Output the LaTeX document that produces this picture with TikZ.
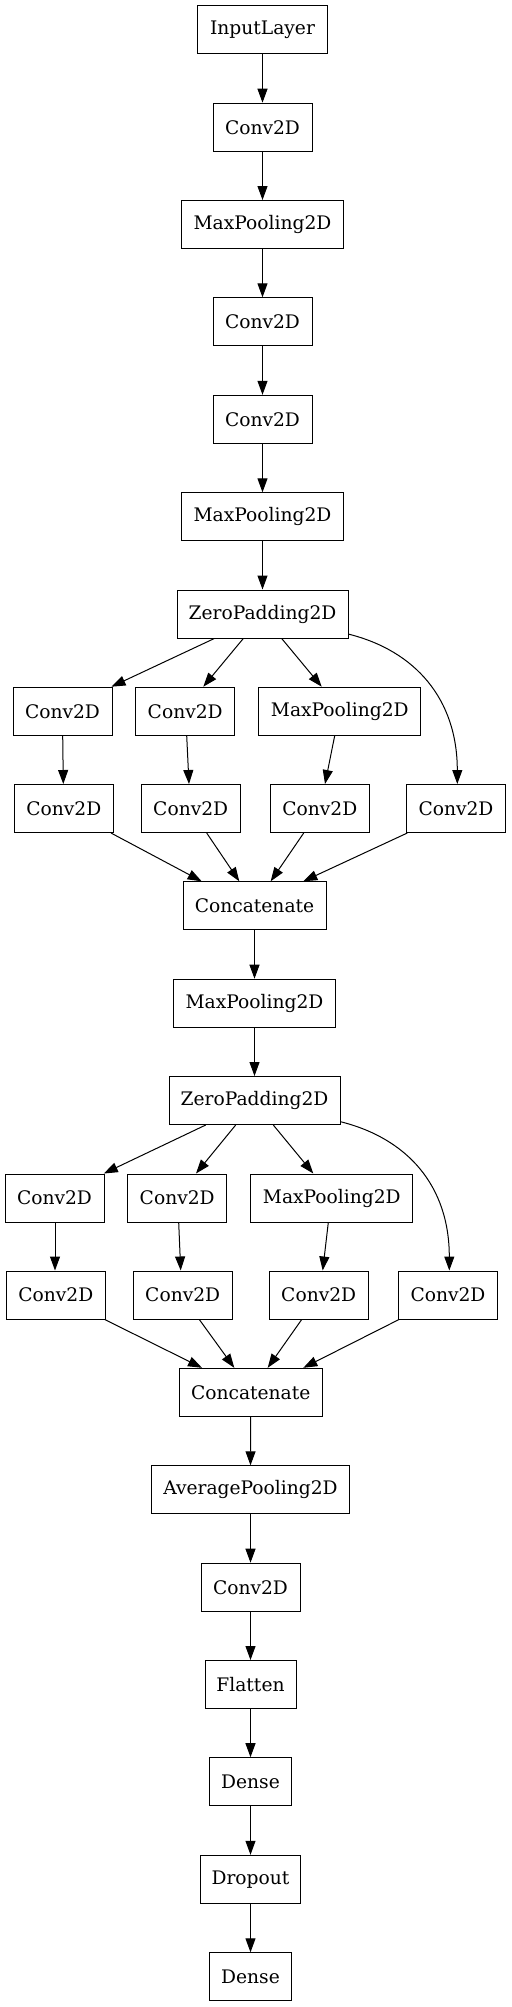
\documentclass[tikz,border=0pt]{standalone}
\usepackage{fontspec}
\setmainfont{DejaVu Serif}
\usetikzlibrary{arrows.meta,calc}
\tikzset{
  layer/.style={draw=black, line width=0.75pt, minimum height=36pt, inner sep=0pt,
    font=\fontsize{14}{16}\selectfont},
  arr/.style={draw=black, line width=0.75pt, -{Triangle[length=10.5pt,width=7.5pt]}},
}
\newcommand\lnk[4]{\draw[arr] ($(#1.south)+(#2,0)$) -- ($(#3.north)+(#4,0)$);}
\begin{document}
\begin{tikzpicture}[x=0.75pt,y=-0.75pt]
\useasboundingbox (0,0) rectangle (511,2007);
% trunk
\node[layer,minimum width=97.5pt] (in) at (262.5,29.7) {InputLayer};
\node[layer,minimum width=74.25pt] (c1) at (262.5,127.2) {Conv2D};
\node[layer,minimum width=121.5pt] (m1) at (262.5,224.5) {MaxPooling2D};
\node[layer,minimum width=74.25pt] (c2) at (262.5,321.8) {Conv2D};
\node[layer,minimum width=74.25pt] (c3) at (262.5,419.3) {Conv2D};
\node[layer,minimum width=121.5pt] (m2) at (262.5,516.8) {MaxPooling2D};
\node[layer,minimum width=128.25pt] (zp1) at (262.5,614) {ZeroPadding2D};
% block 1
\node[layer,minimum width=74.25pt] (a1) at (62.5,711.2) {Conv2D};
\node[layer,minimum width=74.25pt] (b1) at (185.2,711.2) {Conv2D};
\node[layer,minimum width=121.5pt] (p1) at (339.8,711.2) {MaxPooling2D};
\node[layer,minimum width=74.25pt] (a2) at (63.8,808.5) {Conv2D};
\node[layer,minimum width=74.25pt] (b2) at (190.7,808.5) {Conv2D};
\node[layer,minimum width=74.25pt] (p2) at (319.8,808.5) {Conv2D};
\node[layer,minimum width=74.25pt] (d2) at (456,808.5) {Conv2D};
\node[layer,minimum width=107.25pt] (cat1) at (254.5,905.8) {Concatenate};
\node[layer,minimum width=121.5pt] (m3) at (254.5,1003.2) {MaxPooling2D};
\node[layer,minimum width=128.25pt] (zp2) at (254.5,1100.5) {ZeroPadding2D};
% block 2
\node[layer,minimum width=74.25pt] (e1) at (54.5,1198) {Conv2D};
\node[layer,minimum width=74.25pt] (f1) at (177.2,1198) {Conv2D};
\node[layer,minimum width=121.5pt] (q1) at (331.8,1198) {MaxPooling2D};
\node[layer,minimum width=74.25pt] (e2) at (55.8,1295) {Conv2D};
\node[layer,minimum width=74.25pt] (f2) at (182.7,1295) {Conv2D};
\node[layer,minimum width=74.25pt] (q2) at (318.7,1295) {Conv2D};
\node[layer,minimum width=74.25pt] (g2) at (448,1295) {Conv2D};
\node[layer,minimum width=107.25pt] (cat2) at (250.7,1392.3) {Concatenate};
% tail
\node[layer,minimum width=148.2pt] (avg) at (250.5,1489.8) {AveragePooling2D};
\node[layer,minimum width=74.25pt] (c4) at (250.5,1587.2) {Conv2D};
\node[layer,minimum width=68.25pt] (fl) at (250.5,1684.5) {Flatten};
\node[layer,minimum width=61.3pt] (de1) at (250.5,1781.7) {Dense};
\node[layer,minimum width=75.3pt] (dr) at (250.5,1879.3) {Dropout};
\node[layer,minimum width=61.3pt] (de2) at (250.5,1976.8) {Dense};
% trunk edges
\lnk{in}{0}{c1}{0}
\lnk{c1}{0}{m1}{0}
\lnk{m1}{0}{c2}{0}
\lnk{c2}{0}{c3}{0}
\lnk{c3}{0}{m2}{0}
\lnk{m2}{0}{zp1}{0}
% block 1 edges
\lnk{zp1}{-48.2}{a1}{49}
\lnk{zp1}{-19.2}{b1}{18.1}
\lnk{zp1}{19.2}{p1}{-18.1}
\draw[arr] ($(zp1.south east)+(0,-4.4)$) .. controls +(67,16.7) and +(0,-84.7) .. ($(d2.north)+(1.3,0)$);
\lnk{a1}{0.2}{a2}{-0.5}
\lnk{b1}{1.5}{b2}{-1.7}
\lnk{p1}{-5.1}{p2}{5.2}
\lnk{a2}{47.2}{cat1}{-52.8}
\lnk{b2}{16}{cat1}{-15.2}
\lnk{p2}{-16.1}{cat1}{16.2}
\lnk{d2}{-48.7}{cat1}{48.8}
\lnk{cat1}{0}{m3}{0}
\lnk{m3}{0}{zp2}{0}
% block 2 edges
\lnk{zp2}{-48.8}{e1}{49.3}
\lnk{zp2}{-18.8}{f1}{18.8}
\lnk{zp2}{18.8}{q1}{-18.5}
\draw[arr] ($(zp2.south east)+(0,-3.3)$) .. controls +(67,16.7) and +(0,-84.7) .. ($(g2.north)+(1.3,0)$);
\lnk{e1}{0.5}{e2}{-0.8}
\lnk{f1}{1.5}{f2}{-2}
\lnk{q1}{-3.5}{q2}{4}
\lnk{e2}{48.9}{cat2}{-48.7}
\lnk{f2}{16.6}{cat2}{-16.4}
\lnk{q2}{-17}{cat2}{17}
\lnk{g2}{-49}{cat2}{52.6}
% tail edges
\lnk{cat2}{0}{avg}{0}
\lnk{avg}{0}{c4}{0}
\lnk{c4}{0}{fl}{0}
\lnk{fl}{0}{de1}{0}
\lnk{de1}{0}{dr}{0}
\lnk{dr}{0}{de2}{0}
\end{tikzpicture}
\end{document}
